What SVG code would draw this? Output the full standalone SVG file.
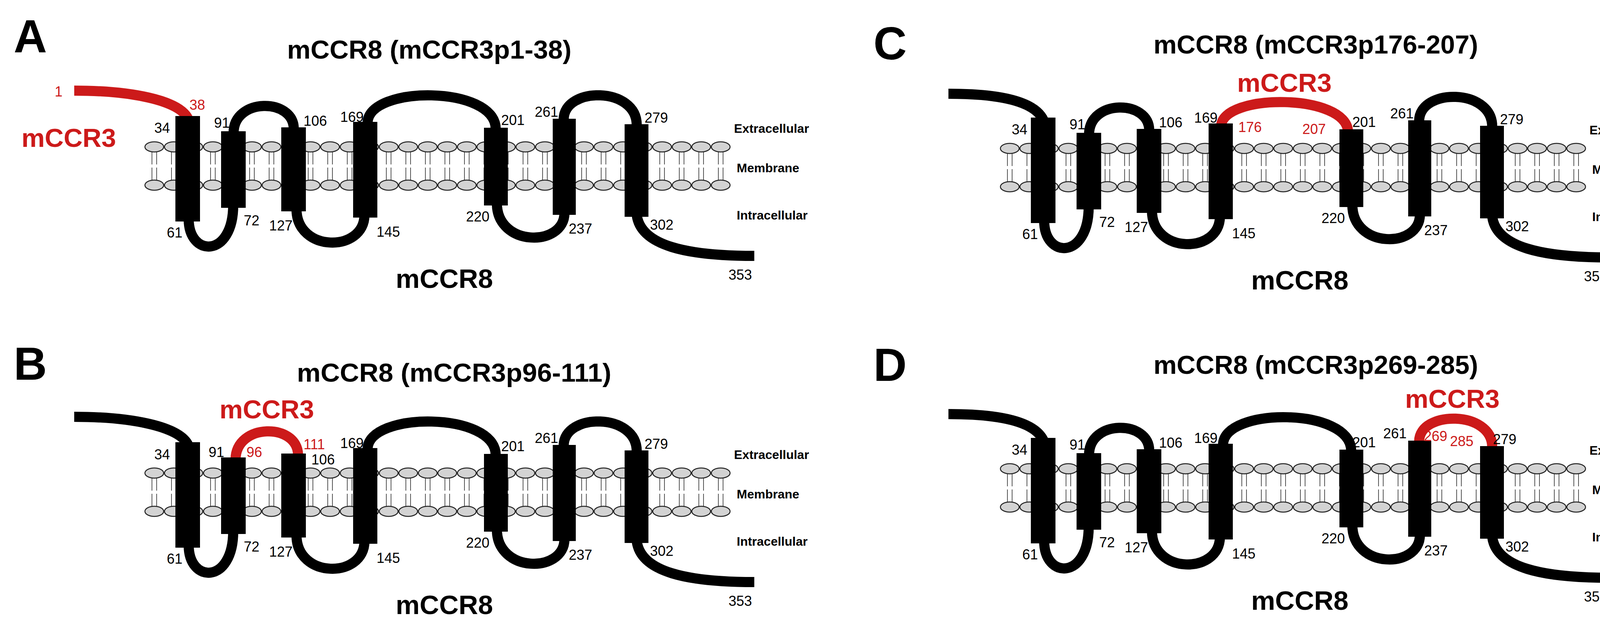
<svg xmlns="http://www.w3.org/2000/svg" xmlns:xlink="http://www.w3.org/1999/xlink" width="4296" height="1623" viewBox="0 0 4296 1623">
<style>
text{font-family:"Liberation Sans",Arial,sans-serif}
.n{font-size:36px;fill:#000}
.r{fill:#cc1a1a}
.b{font-weight:bold}
.t{font-size:67px;font-weight:bold}
.L{font-size:118px;font-weight:bold}
.side{font-size:32px;font-weight:bold}
.lp{fill:none;stroke:#000;stroke-width:26}
.lr{fill:none;stroke:#cc1a1a;stroke-width:26}
.hx{fill:#000}
.hd{fill:#d3d3d3;stroke:#222;stroke-width:2.5}
.tl{stroke:#555;stroke-width:2}
</style>
<defs>
<g id="lipid">
<line class="tl" x1="-6" y1="388" x2="-6" y2="421"/><line class="tl" x1="6" y1="388" x2="6" y2="421"/>
<line class="tl" x1="-6" y1="429" x2="-6" y2="462"/><line class="tl" x1="6" y1="429" x2="6" y2="462"/>
<ellipse class="hd" cx="0" cy="376" rx="24" ry="13"/>
<ellipse class="hd" cx="0" cy="474" rx="24" ry="13"/>
</g>
<g id="membrane">
<use xlink:href="#lipid" x="395"/><use xlink:href="#lipid" x="445"/><use xlink:href="#lipid" x="495"/><use xlink:href="#lipid" x="545"/><use xlink:href="#lipid" x="595"/><use xlink:href="#lipid" x="645"/><use xlink:href="#lipid" x="695"/><use xlink:href="#lipid" x="745"/><use xlink:href="#lipid" x="795"/><use xlink:href="#lipid" x="845"/><use xlink:href="#lipid" x="895"/><use xlink:href="#lipid" x="945"/><use xlink:href="#lipid" x="995"/><use xlink:href="#lipid" x="1045"/><use xlink:href="#lipid" x="1095"/><use xlink:href="#lipid" x="1145"/><use xlink:href="#lipid" x="1195"/><use xlink:href="#lipid" x="1245"/><use xlink:href="#lipid" x="1295"/><use xlink:href="#lipid" x="1345"/><use xlink:href="#lipid" x="1395"/><use xlink:href="#lipid" x="1445"/><use xlink:href="#lipid" x="1495"/><use xlink:href="#lipid" x="1545"/><use xlink:href="#lipid" x="1595"/><use xlink:href="#lipid" x="1645"/><use xlink:href="#lipid" x="1695"/><use xlink:href="#lipid" x="1745"/><use xlink:href="#lipid" x="1795"/><use xlink:href="#lipid" x="1845"/>
</g>
<g id="base">
<use xlink:href="#membrane"/>
<g id="icl">
<path class="lp" d="M483,560 C483,660 597,660 597,525"/>
<path class="lp" d="M759,535 C759,647 933,647 933,550"/>
<path class="lp" d="M1272,520 C1272,633 1445,633 1445,545"/>
<path class="lp" d="M1630,550 C1640,630 1760,655 1931,655"/>
</g>
<rect class="hx" x="449" y="297" width="63" height="270"/>
<rect class="hx" x="566" y="336" width="63" height="196"/>
<rect class="hx" x="720" y="326" width="63" height="215"/>
<rect class="hx" x="904" y="312" width="62" height="245"/>
<rect class="hx" x="1239" y="327" width="61" height="199"/>
<rect class="hx" x="1415" y="304" width="59" height="246"/>
<rect class="hx" x="1599" y="318" width="61" height="237"/>
<text class="n" x="427" y="608">61</text><text class="n" x="624" y="577">72</text><text class="n" x="689" y="590">127</text><text class="n" x="964" y="606">145</text><text class="n" x="1193" y="567">220</text><text class="n" x="1456" y="598">237</text><text class="n" x="1664" y="588">302</text><text class="n" x="1865" y="716">353</text>
<text class="side" x="1879" y="340">Extracellular</text><text class="side" x="1886" y="441">Membrane</text><text class="side" x="1886" y="562">Intracellular</text>
<text class="t" x="1013" y="737" style="font-size:69px">mCCR8</text>
</g>
</defs>

<g id="panelA">
<text class="L" x="35" y="134">A</text>
<text class="t" x="735" y="150" textLength="728" lengthAdjust="spacingAndGlyphs">mCCR8 (mCCR3p1-38)</text>
<g id="connectorsA">
<path class="lr" d="M190,232 C330,232 460,255 482,305"/>
<path class="lp" d="M598,340 C598,250 752,250 752,330"/>
<path class="lp" d="M941,315 C941,218 1269,218 1269,330"/>
<path class="lp" d="M1443,306 C1443,221 1630,221 1630,320"/>
</g>
<use xlink:href="#base"/>
<text class="n r" x="140" y="247">1</text><text class="n r" x="485" y="281">38</text>
<text class="b r" x="55" y="376" style="font-size:67px">mCCR3</text>
<text class="n" x="395" y="340">34</text><text class="n" x="548" y="327">91</text><text class="n" x="777" y="322">106</text><text class="n" x="871" y="312">169</text><text class="n" x="1283" y="320">201</text><text class="n" x="1369" y="299">261</text><text class="n" x="1650" y="314">279</text>
</g>

<g id="panelB">
<text class="L" x="35" y="972">B</text>
<text class="t" x="760" y="977" textLength="805" lengthAdjust="spacingAndGlyphs">mCCR8 (mCCR3p96-111)</text>
<g transform="translate(0,835)">
<g id="connectorsB">
<path class="lp" d="M190,232 C330,232 460,255 482,305"/>
<path class="lr" d="M603,342 C603,247 763,247 763,330"/>
<path class="lp" d="M941,315 C941,218 1269,218 1269,330"/>
<path class="lp" d="M1443,306 C1443,221 1630,221 1630,320"/>
</g>
<use xlink:href="#base"/>
<text class="b r" x="562" y="236" style="font-size:67px">mCCR3</text>
<text class="n r" x="631" y="335">96</text><text class="n r" x="777" y="315">111</text>
<text class="n" x="395" y="341">34</text><text class="n" x="534" y="335">91</text><text class="n" x="797" y="354">106</text><text class="n" x="871" y="312">169</text><text class="n" x="1283" y="320">201</text><text class="n" x="1369" y="299">261</text><text class="n" x="1650" y="314">279</text>
</g>
</g>

<g id="panelC">
<text class="L" x="2236" y="152">C</text>
<text class="t" x="2953" y="137" textLength="831" lengthAdjust="spacingAndGlyphs">mCCR8 (mCCR3p176-207)</text>
<g transform="translate(2190,4)">
<g id="connectorsC">
<path class="lp" d="M238,236 C370,236 460,255 482,305"/>
<path class="lp" d="M598,340 C598,250 752,250 752,330"/>
<path class="lr" d="M936,320 C936,234 1261,234 1261,335"/>
<path class="lp" d="M1443,306 C1443,221 1630,221 1630,320"/>
</g>
<use xlink:href="#base"/>
<text class="b r" x="977" y="231" style="font-size:67px">mCCR3</text>
<text class="n r" x="980" y="334">176</text><text class="n r" x="1144" y="339">207</text>
<text class="n" x="400" y="340">34</text><text class="n" x="548" y="327">91</text><text class="n" x="777" y="322">106</text><text class="n" x="867" y="310">169</text><text class="n" x="1272" y="321">201</text><text class="n" x="1369" y="299">261</text><text class="n" x="1650" y="314">279</text>
</g>
</g>

<g id="panelD">
<text class="L" x="2236" y="975">D</text>
<text class="t" x="2953" y="957" textLength="831" lengthAdjust="spacingAndGlyphs">mCCR8 (mCCR3p269-285)</text>
<g transform="translate(2190,824)">
<g id="connectorsD">
<path class="lp" d="M238,236 C370,236 460,255 482,305"/>
<path class="lp" d="M598,340 C598,250 752,250 752,330"/>
<path class="lp" d="M941,315 C941,218 1269,218 1269,330"/>
<path class="lr" d="M1443,306 C1443,226 1630,226 1630,320"/>
</g>
<use xlink:href="#base"/>
<text class="b r" x="1407" y="220" style="font-size:67px">mCCR3</text>
<text class="n r" x="1455" y="305">269</text><text class="n r" x="1522" y="318">285</text>
<text class="n" x="400" y="340">34</text><text class="n" x="548" y="327">91</text><text class="n" x="777" y="322">106</text><text class="n" x="867" y="310">169</text><text class="n" x="1272" y="321">201</text><text class="n" x="1351" y="298">261</text><text class="n" x="1632" y="313">279</text>
</g>
</g>
</svg>
